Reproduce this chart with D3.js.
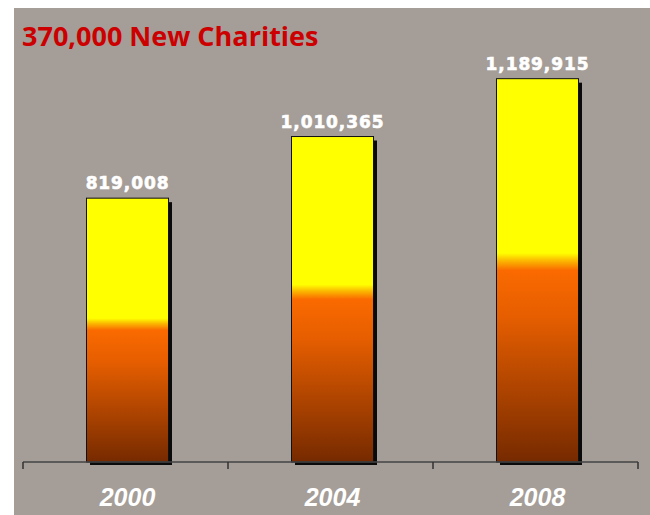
<!DOCTYPE html>
<html>
<head>
<meta charset="utf-8">
<script src="https://cdn.jsdelivr.net/npm/d3@7"></script>
<style>
  html, body { margin: 0; padding: 0; background: #ffffff; }
  svg { display: block; }
</style>
</head>
<body>
<svg id="chart" width="650" height="515"></svg>
<script>
// Registered charities by year
const years = ["2000", "2004", "2008"];
const charities = [819008, 1010365, 1189915];
const title = "370,000 New Charities";

const W = 650, H = 515;
const svg = d3.select("#chart");

// Panel background
svg.append("rect")
  .attr("x", 14).attr("y", 8)
  .attr("width", W - 14).attr("height", H - 8)
  .attr("fill", "#a59d97");

const x = d3.scaleBand().domain(years).range([23, 638]).padding(0);
const y = d3.scaleLinear().domain([0, 1400000]).range([462, 11]);

// Bar fill: yellow top half, orange fading to dark brown
const defs = svg.append("defs");
const grad = defs.append("linearGradient")
  .attr("id", "barFill")
  .attr("x1", 0).attr("y1", 0).attr("x2", 0).attr("y2", 1);
[
  [0, "#ffff00"],
  [0.455, "#ffff00"],
  [0.475, "#fbb800"],
  [0.5, "#fa6a00"],
  [0.62, "#e65e00"],
  [1, "#762a00"]
].forEach(([o, c]) => grad.append("stop").attr("offset", o).attr("stop-color", c));

const barW = x.bandwidth() * 0.4;
const barX = (d) => x(d) + (x.bandwidth() - barW) / 2 + 2;
const bars = svg.append("g");

// Drop shadows
bars.selectAll("rect.shadow")
  .data(years)
  .join("rect")
  .attr("class", "shadow")
  .attr("x", (d) => barX(d) + 3.5)
  .attr("y", (d, i) => y(charities[i]) + 4)
  .attr("width", barW)
  .attr("height", (d, i) => y(0) - y(charities[i]) - 1)
  .attr("fill", "#0a0a0a");

// Bars
bars.selectAll("rect.bar")
  .data(years)
  .join("rect")
  .attr("class", "bar")
  .attr("x", barX)
  .attr("y", (d, i) => y(charities[i]))
  .attr("width", barW)
  .attr("height", (d, i) => y(0) - y(charities[i]))
  .attr("fill", "url(#barFill)")
  .attr("stroke", "#111")
  .attr("stroke-width", 1);

// Category axis with ticks at the band edges
const axis = svg.append("g");
axis.append("line")
  .attr("x1", x.range()[0]).attr("x2", x.range()[1])
  .attr("y1", y(0)).attr("y2", y(0))
  .attr("stroke", "#444").attr("stroke-width", 1.5);
const edges = years.map((d) => x(d)).concat([x.range()[1]]);
axis.selectAll("line.tick")
  .data(edges)
  .join("line")
  .attr("class", "tick")
  .attr("x1", (d) => d).attr("x2", (d) => d)
  .attr("y1", y(0)).attr("y2", y(0) + 7)
  .attr("stroke", "#333").attr("stroke-width", 1.5);

axis.selectAll("text.year")
  .data(years)
  .join("text")
  .attr("class", "year")
  .attr("x", (d) => x(d) + x.bandwidth() / 2 + 2)
  .attr("y", 506)
  .attr("text-anchor", "middle")
  .attr("font-family", "'Liberation Sans', Arial, sans-serif")
  .attr("font-weight", "bold")
  .attr("font-style", "italic")
  .attr("font-size", 25)
  .attr("fill", "#ffffff")
  .text((d) => d);

// Value labels above bars
const fmt = d3.format(",");
svg.selectAll("text.value")
  .data(years)
  .join("text")
  .attr("class", "value")
  .attr("x", (d) => barX(d) + barW / 2)
  .attr("y", (d, i) => y(charities[i]) - 9)
  .attr("text-anchor", "middle")
  .attr("font-family", "'DejaVu Sans', Verdana, sans-serif")
  .attr("font-weight", "bold")
  .attr("font-size", 17)
  .attr("letter-spacing", 0.9)
  .attr("stroke", "#ffffff")
  .attr("stroke-width", 0.6)
  .attr("fill", "#ffffff")
  .text((d, i) => fmt(charities[i]));

// Title
svg.append("text")
  .attr("x", 22).attr("y", 46)
  .attr("font-family", "'Open Sans', sans-serif")
  .attr("font-weight", "bold")
  .attr("font-size", 27)
  .attr("fill", "#cc0000")
  .text(title);
</script>
</body>
</html>
